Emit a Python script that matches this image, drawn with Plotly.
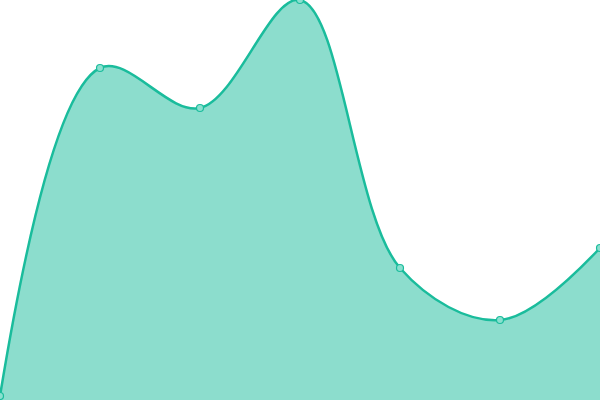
import plotly.graph_objects as go

categories = [0, 1, 2, 3, 4, 5, 6]
values = [1, 83, 73, 100, 33, 20, 38]

fig = go.Figure()
fig.add_trace(go.Scatter(
    x=categories, y=values,
    mode="lines+markers",
    line=dict(color="#1abc9c", width=2.5, shape="spline", smoothing=1.0),
    fill="tozeroy",
    fillcolor="rgba(26,188,156,0.5)",
    marker=dict(size=7, color="#8ae0cf", line=dict(color="#1abc9c", width=1.2)),
    hoverinfo="skip",
    cliponaxis=True,
))
fig.update_layout(
    width=600, height=400,
    margin=dict(l=0, r=0, t=0, b=0),
    paper_bgcolor="white", plot_bgcolor="white",
    showlegend=False,
    xaxis=dict(visible=False, range=[0, 6]),
    yaxis=dict(visible=False, range=[0, 100]),
)
fig.write_html(
    "out.html",
    config={"displayModeBar": False},
    post_script="document.body.style.margin='0';document.body.style.padding='0';",
)
